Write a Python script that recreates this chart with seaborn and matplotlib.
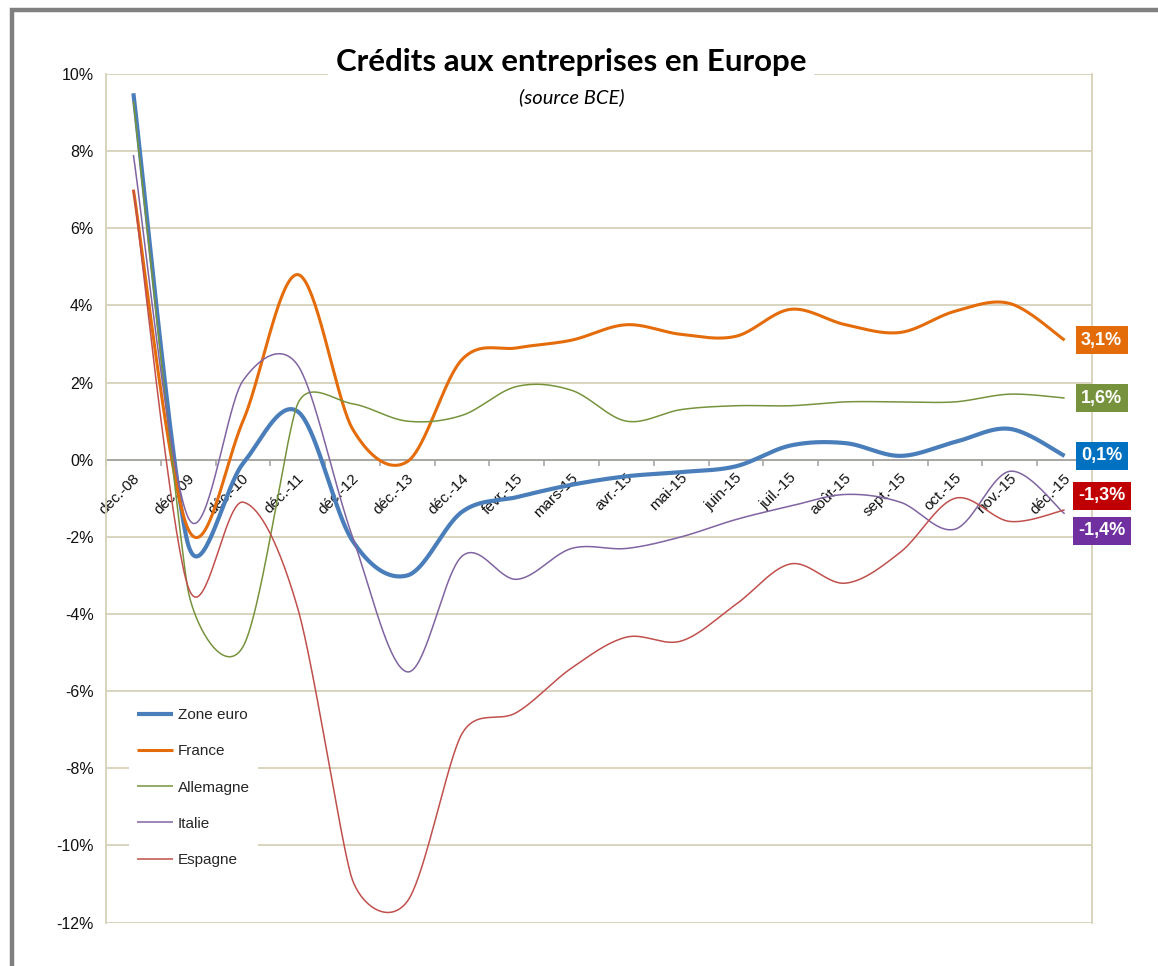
import numpy as np
import pandas as pd
import seaborn as sns
import matplotlib.pyplot as plt
from matplotlib.patches import Rectangle
from matplotlib.ticker import NullFormatter
from matplotlib.transforms import ScaledTranslation

# categories (axe des x)
mois = ["déc.-08", "déc.-09", "déc.-10", "déc.-11", "déc.-12", "déc.-13", "déc.-14",
        "févr.-15", "mars-15", "avr.-15", "mai-15", "juin-15", "juil.-15", "août-15",
        "sept.-15", "oct.-15", "nov.-15", "déc.-15"]

# glissement annuel des credits aux entreprises, en %
zone_euro = [9.5, -2.2, -0.1, 1.25, -2.1, -3.0, -1.35, -0.97, -0.65, -0.43, -0.32, -0.17,
             0.37, 0.43, 0.1, 0.46, 0.8, 0.1]
france = [7.0, -1.8, 1.0, 4.8, 0.8, -0.05, 2.6, 2.9, 3.1, 3.5, 3.25, 3.2,
          3.9, 3.5, 3.3, 3.85, 4.05, 3.1]
allemagne = [9.3, -3.4, -4.85, 1.45, 1.45, 1.0, 1.15, 1.9, 1.8, 1.0, 1.3, 1.4,
             1.4, 1.5, 1.5, 1.5, 1.7, 1.6]
italie = [7.9, -1.5, 2.05, 2.45, -2.0, -5.5, -2.5, -3.1, -2.3, -2.3, -2.0, -1.55,
          -1.2, -0.9, -1.1, -1.8, -0.3, -1.4]
espagne = [7.0, -3.3, -1.1, -3.85, -10.9, -11.45, -7.1, -6.55, -5.4, -4.6, -4.7, -3.75,
           -2.7, -3.2, -2.4, -1.0, -1.6, -1.3]

series = ["Zone euro", "France", "Allemagne", "Italie", "Espagne"]
valeurs = [zone_euro, france, allemagne, italie, espagne]
couleurs = ["#4A7EBB", "#E46C0A", "#77933C", "#8064A2", "#C0504D"]
epaisseurs = [3.0, 2.2, 1.1, 1.1, 1.1]
fonds = ["#0070C0", "#E36C09", "#76923C", "#7030A0", "#C00000"]
decal = [0, 0, 0, -17, 14]  # decalage vertical des etiquettes (pixels)

GRILLE = "#D6D1B8"
SY = 38.55 / 54.8  # rapport d'echelle y/x a l'ecran, pour le lissage


def bras(p, i):
    # tangente (p[i+1]-p[i-1]), longueur 1/6, limitee a la moitie des segments voisins
    a = p[max(i - 1, 0)]
    b = p[min(i + 1, len(p) - 1)]
    d = b - a
    n = np.linalg.norm(d)
    lim = [n / 6]
    if i > 0:
        lim.append(np.linalg.norm(p[i] - p[i - 1]) / 2)
    if i < len(p) - 1:
        lim.append(np.linalg.norm(p[i + 1] - p[i]) / 2)
    return d / n * min(lim)


def lisse(y, n=40):
    """courbe lissee facon Excel (Bezier cubique)"""
    p = np.column_stack([np.arange(len(y)), np.asarray(y, float) * SY])
    out = []
    for i in range(len(p) - 1):
        c1 = p[i] + bras(p, i)
        c2 = p[i + 1] - bras(p, i + 1)
        t = np.linspace(0, 1, n)[:, None]
        seg = (1 - t) ** 3 * p[i] + 3 * (1 - t) ** 2 * t * c1 + 3 * (1 - t) * t ** 2 * c2 + t ** 3 * p[i + 1]
        out.append(seg if i == 0 else seg[1:])
    out = np.vstack(out)
    return out[:, 0], out[:, 1] / SY


sns.set_theme(style="white")
plt.rcParams["font.family"] = ["Liberation Sans", "DejaVu Sans"]

fig = plt.figure(figsize=(11.58, 9.66), dpi=100)
ax = fig.add_axes([106 / 1158, 1 - 922.6 / 966, 986 / 1158, 848.6 / 966])

for nom, v, c, lw in zip(series, valeurs, couleurs, epaisseurs):
    xs, ys = lisse(v)
    df = pd.DataFrame({"x": xs, "y": ys})
    sns.lineplot(data=df, x="x", y="y", ax=ax, color=c, linewidth=lw, label=nom,
                 sort=False, estimator=None, solid_capstyle="butt")

ax.set_xlim(-0.5, len(mois) - 0.5)
ax.set_ylim(-12, 10)
ax.set_xlabel("")
ax.set_ylabel("")

# axe y
yt = list(range(-12, 11, 2))
ax.set_yticks(yt)
ax.set_yticklabels([f"{t}%" for t in yt])
ax.tick_params(axis="y", length=0, pad=9, labelsize=11.5, labelcolor="#111111")
ax.yaxis.grid(True, color=GRILLE, linewidth=1.3)
ax.xaxis.grid(False)
ax.set_axisbelow(True)

# axe x au niveau 0
ax.spines["bottom"].set_position(("data", 0))
ax.spines["bottom"].set_color("#A0A0A0")
ax.spines["bottom"].set_linewidth(1.2)
ax.spines["bottom"].set_zorder(1.5)
ax.spines["top"].set_visible(False)
for s in ["left", "right"]:
    ax.spines[s].set_color(GRILLE)
    ax.spines[s].set_linewidth(1.3)

ax.set_xticks(np.arange(-0.5, len(mois), 1))
ax.xaxis.set_major_formatter(NullFormatter())
ax.set_xticks(range(len(mois)), mois, minor=True)
ax.tick_params(axis="x", which="major", direction="out", length=4, width=1.1,
               color="#A0A0A0", bottom=True)
ax.tick_params(axis="x", which="minor", length=0, pad=8, labelsize=11,
               labelcolor="#111111", bottom=True)
for lab in ax.get_xticklabels(minor=True):
    lab.set_rotation(45)
    lab.set_ha("right")
    lab.set_va("top")
    lab.set_rotation_mode("anchor")
    lab.set_transform(lab.get_transform() + ScaledTranslation(-1 / 100, 0, fig.dpi_scale_trans))

# etiquettes de la derniere valeur
for v, f, dy in zip(valeurs, fonds, decal):
    txt = f"{v[-1]:.1f}%".replace(".", ",")
    ax.annotate(txt, xy=(len(mois) - 1, v[-1]), xytext=(37, dy), textcoords="offset pixels",
                ha="center", va="center", color="white", fontsize=13, fontweight="bold",
                annotation_clip=False, zorder=6,
                bbox=dict(boxstyle="square,pad=0.3", facecolor=f, edgecolor="none"))

# legende
leg = ax.legend(loc="upper left", bbox_to_anchor=(0.0233, 0.2616), frameon=True,
                fancybox=False, framealpha=1, facecolor="white", edgecolor="none",
                fontsize=11, handlelength=2.4, handletextpad=0.3, labelspacing=1.45,
                borderpad=0.5, borderaxespad=0)
for h in leg.get_lines():
    h.set_solid_capstyle("butt")

# titre
fig.text(571 / 1158, 1 - 62 / 966, "Crédits aux entreprises en Europe", ha="center", va="center",
         fontsize=22.5, fontweight="bold", family=["Lato", "DejaVu Sans"], color="black",
         bbox=dict(boxstyle="square,pad=0.25", facecolor="white", edgecolor="none"), zorder=5)
fig.text(572 / 1158, 1 - 97 / 966, "(source BCE)", ha="center", va="center",
         fontsize=14.5, style="italic", family=["Lato", "DejaVu Sans"], color="black", zorder=6)

# cadre gris du graphique
fig.add_artist(Rectangle((12 / 1158, -0.1), 1.2, 1.1 - 10 / 966, transform=fig.transFigure,
                         fill=False, edgecolor="#808080", linewidth=3.2))

fig.savefig("out.png", dpi=100)
